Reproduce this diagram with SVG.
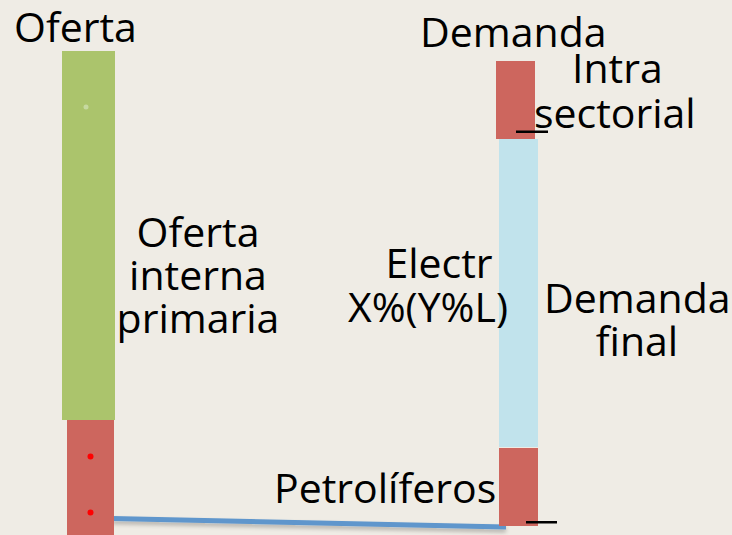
<svg xmlns="http://www.w3.org/2000/svg" width="732" height="535" viewBox="0 0 732 535">
<defs>
<style>
text{font-family:"Open Sans","Liberation Sans",Arial,sans-serif;font-size:41px;fill:#000}
.red{fill:#cd665e}
.dot{fill:#ff0000}
</style>
<filter id="sh" x="-10%" y="-200%" width="120%" height="600%">
<feGaussianBlur in="SourceAlpha" stdDeviation="2"/>
<feOffset dy="3"/>
<feComponentTransfer><feFuncA type="linear" slope="0.25"/></feComponentTransfer>
<feMerge><feMergeNode/><feMergeNode in="SourceGraphic"/></feMerge>
</filter>
</defs>
<rect width="732" height="535" fill="#efece5"/>
<g id="connectors">
<line x1="122" y1="55.5" x2="481" y2="55.5" stroke="#cdc6aa" stroke-width="1.5" filter="url(#sh)"/>
<line x1="112" y1="518.5" x2="506" y2="527" stroke="#5f96cc" stroke-width="5" filter="url(#sh)"/>
</g>
<g id="oferta-interna">
<rect x="62" y="51" width="53" height="369" fill="#abc46c"/>
<circle cx="86" cy="107" r="2.5" fill="#c6d9a0"/>
</g>
<g id="petroliferos-oferta">
<rect class="red" x="67" y="420" width="47" height="115"/>
<circle class="dot" cx="90.5" cy="456.5" r="3"/>
<circle class="dot" cx="90.5" cy="512.5" r="3"/>
</g>
<g id="intra-sectorial">
<rect class="red" x="496" y="61" width="39" height="78"/>
</g>
<g id="demanda-final">
<rect x="499" y="139" width="39" height="308" fill="#c1e3ec"/>
</g>
<g id="petroliferos-demanda">
<rect class="red" x="499" y="448" width="39" height="78"/>
</g>
<g id="labels">
<text x="14" y="42">Oferta</text>
<text x="420" y="47">Demanda</text>
<text x="572" y="83">Intra</text>
<rect x="516" y="130.5" width="32" height="2.5" fill="#000"/>
<text x="534" y="128">sectorial</text>
<text x="198" y="247" text-anchor="middle">Oferta</text>
<text x="198" y="290" text-anchor="middle">interna</text>
<text x="198" y="333" text-anchor="middle">primaria</text>
<text x="439" y="278" text-anchor="middle">Electr</text>
<text x="428" y="322" text-anchor="middle">X%(Y%L)</text>
<text x="544" y="313">Demanda</text>
<text x="637" y="356" text-anchor="middle">final</text>
<text x="274" y="503">Petrolíferos</text>
<rect x="526" y="521" width="31" height="2.5" fill="#000"/>
</g>
</svg>
